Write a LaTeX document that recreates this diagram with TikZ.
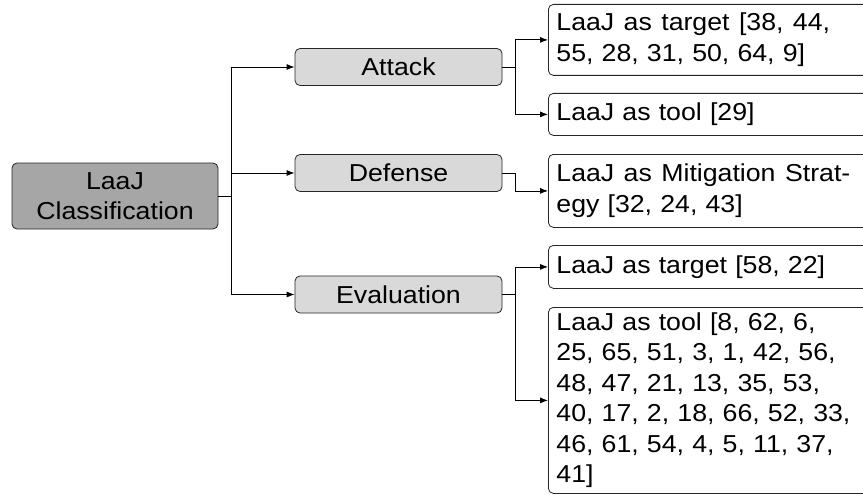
\documentclass[tikz,border=0pt]{standalone}
\usepackage{fontspec}
\setmainfont{Liberation Sans}[FakeStretch=1.09]
\usetikzlibrary{arrows.meta}
\newcommand{\widesp}[1]{\spaceskip=\dimexpr\fontdimen2\font+#1\relax}
\begin{document}
\begin{tikzpicture}[x=1pt,y=-1pt,
  box/.style={draw=black!85, line width=0.8pt, rounded corners=5pt, inner sep=0pt},
  rootbox/.style={box, fill=black!35, minimum width=206pt, minimum height=66pt, align=center},
  midbox/.style={box, fill=black!15, minimum width=207pt, minimum height=37pt},
  leafbox/.style={box, fill=white, text width=310pt, inner xsep=8pt, align=left, anchor=north west},
  arr/.style={draw=black, line width=0.8pt, -{Latex[length=8pt,width=6pt]}},
  font=\fontsize{24.5}{30.5}\selectfont]
\useasboundingbox (0,0) rectangle (863,495);

\node[rootbox] (root) at (115,196) {LaaJ\\Classification};

\node[midbox] (attack) at (398.5,67) {Attack};
\node[midbox] (defense) at (398.5,173) {Defense};
\node[midbox] (evaluation) at (398.5,294.5) {Evaluation};

\node[leafbox, minimum height=71pt] (l1) at (548,4) {{\widesp{2pt}LaaJ as target [38, 44,}\\55, 28, 31, 50, 64, 9]};
\node[leafbox, minimum height=42pt] (l2) at (548,93) {LaaJ as tool [29]};
\node[leafbox, minimum height=73pt] (l3) at (548,154) {{\widesp{2pt}LaaJ as Mitigation Strat-}\\egy [32, 24, 43]};
\node[leafbox, minimum height=43pt] (l4) at (548,245) {LaaJ as target [58, 22]};
\node[leafbox, minimum height=186pt] (l5) at (548,307) {LaaJ as tool [8, 62, 6,\\25, 65, 51, 3, 1, 42, 56,\\48, 47, 21, 13, 35, 53,\\40, 17, 2, 18, 66, 52, 33,\\46, 61, 54, 4, 5, 11, 37,\\41]};

\draw[arr] (root.east) -- ++(13,0) |- (attack.west);
\draw[arr] (root.east) -- ++(13,0) |- (defense.west);
\draw[arr] (root.east) -- ++(13,0) |- (evaluation.west);

\draw[arr] (attack.east) -- ++(13,0) |- (l1.west);
\draw[arr] (attack.east) -- ++(13,0) |- (l2.west);
\draw[arr] (defense.east) -- ++(13,0) |- (l3.west);
\draw[arr] (evaluation.east) -- ++(13,0) |- (l4.west);
\draw[arr] (evaluation.east) -- ++(13,0) |- (l5.west);
\end{tikzpicture}
\end{document}
